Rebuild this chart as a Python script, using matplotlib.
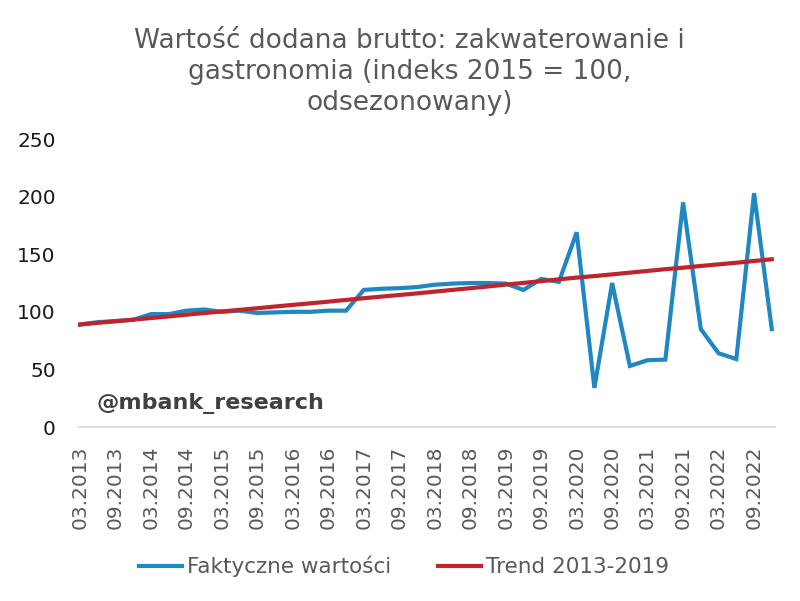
import matplotlib.pyplot as plt
from matplotlib.lines import Line2D

# kwartały 03.2013 - 12.2022
quarters = [f"{m:02d}.{y}" for y in range(2013, 2023) for m in (3, 6, 9, 12)]

actual = [89, 91, 92, 93, 98, 98, 101, 102, 100, 101,
          99, 99.5, 100, 100, 101, 101, 119, 120, 120.5, 121.5,
          123.5, 124.5, 125, 125, 124.5, 119, 128.5, 126, 169, 34,
          125, 53, 58, 58.5, 195, 85, 64, 59, 203, 85]

trend = [89.0, 90.4, 91.8, 93.2, 94.6, 96.0, 97.5, 98.9, 100.3, 101.7,
         103.1, 104.6, 106.0, 107.4, 108.8, 110.3, 111.8, 113.2, 114.6, 116.0,
         117.5, 119.0, 120.5, 122.0, 123.6, 125.1, 126.6, 128.2, 129.7, 131.0,
         132.5, 134.0, 135.5, 137.0, 138.3, 139.8, 141.2, 142.6, 144.1, 145.6]

title = "Wartość dodana brutto: zakwaterowanie i\ngastronomia (indeks 2015 = 100,\nodsezonowany)"
labels = ["Faktyczne wartości", "Trend 2013-2019"]

BLUE = "#1f88c2"
RED = "#c0252b"
GRAY = "#595959"

fig = plt.figure(figsize=(8, 6.01), dpi=100)
ax = fig.add_axes([0.0975, 0.2895, 0.871, 0.4792])

x = list(range(len(quarters)))
ax.plot(x, actual, color=BLUE, lw=3, solid_joinstyle="miter")
ax.plot(x, trend, color=RED, lw=3)

ax.set_xlim(-0.11, 39.17)
ax.set_ylim(0, 250)
ax.set_yticks(range(0, 251, 50))
ax.set_xticks(x[::2])
ax.set_xticklabels(quarters[::2], rotation=90, color=GRAY, fontsize=14.5)
ax.tick_params(axis="y", length=0, pad=16, labelsize=14.5, labelcolor="#1a1a1a")
ax.tick_params(axis="x", length=0, pad=13.5)

for s in ["top", "right", "left"]:
    ax.spines[s].set_visible(False)
ax.spines["bottom"].set_color("#d9d9d9")
ax.spines["bottom"].set_linewidth(1.2)

ax.text(0.026, 0.083, "@mbank_research", transform=ax.transAxes, fontsize=16,
        fontweight="bold", color="#404040", va="center")

fig.text(0.512, 0.807, title, ha="center", va="bottom", fontsize=19,
         color=GRAY, linespacing=1.25)

handles = [Line2D([], [], color=BLUE, lw=3), Line2D([], [], color=RED, lw=3)]
fig.legend(handles, labels, loc="center", bbox_to_anchor=(0.505, 0.057), ncol=2,
           frameon=False, fontsize=15.5, labelcolor=GRAY, handlelength=2.0,
           handletextpad=0.2, columnspacing=2.2)

fig.savefig("out.png")
